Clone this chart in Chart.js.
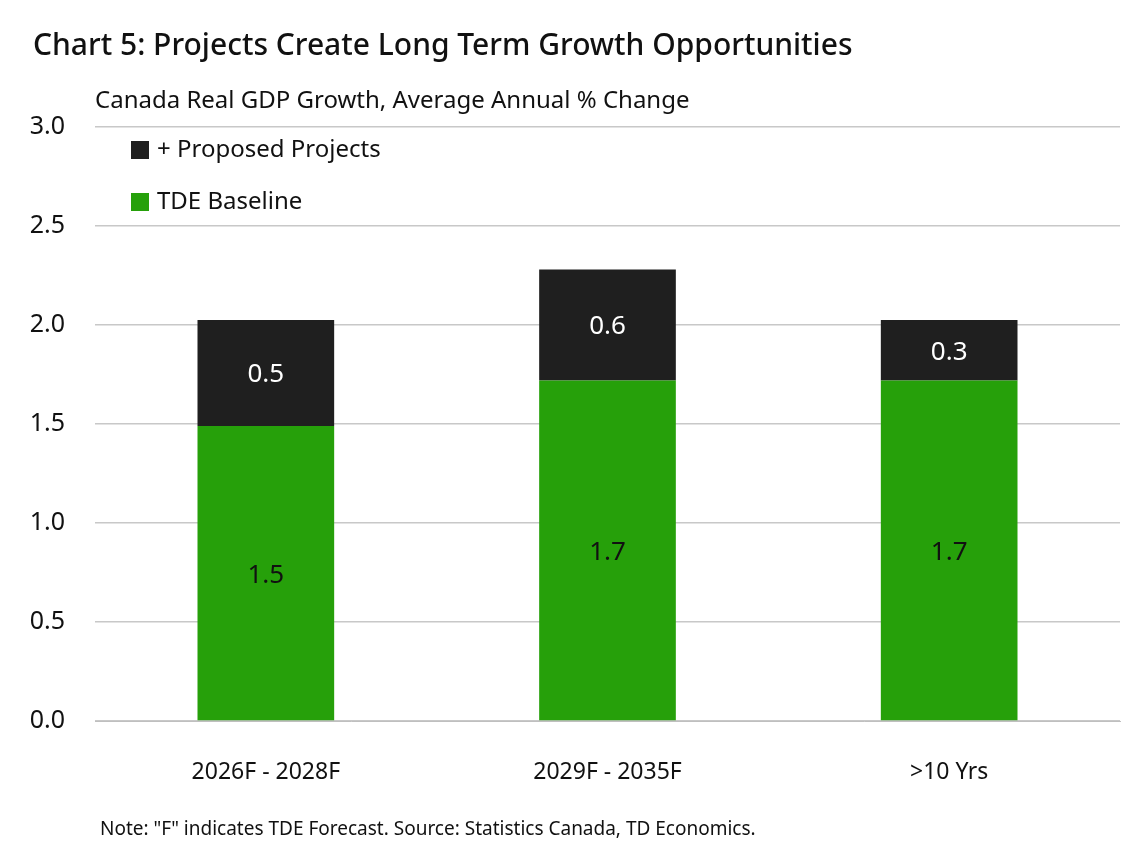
<!DOCTYPE html>
<html><head><meta charset="utf-8">
<script src="https://cdn.jsdelivr.net/npm/chart.js@4"></script>
<style>html,body{margin:0;padding:0;background:#fff}</style>
</head><body>
<canvas id="c" width="1142" height="849"></canvas>
<script>
const categories = ["2026F - 2028F", "2029F - 2035F", ">10 Yrs"];
const baseline = [1.49, 1.72, 1.72];
const proposed = [0.535, 0.56, 0.305];
const baselineLabels = ["1.5", "1.7", "1.7"];
const proposedLabels = ["0.5", "0.6", "0.3"];
const yTicks = [0, 0.5, 1.0, 1.5, 2.0, 2.5, 3.0];
const FONT = "'Noto Sans', sans-serif";

const deco = {
  id: 'deco',
  afterDraw(chart) {
    const ctx = chart.ctx;
    ctx.save();
    ctx.textBaseline = 'middle';
    ctx.fillStyle = '#111';
    ctx.font = `500 30px ${FONT}`;
    ctx.textAlign = 'left';
    ctx.fillText('Chart 5: Projects Create Long Term Growth Opportunities', 33, 46);
    ctx.font = `24px ${FONT}`;
    ctx.fillText('Canada Real GDP Growth, Average Annual % Change', 95, 101);
    ctx.font = `19px ${FONT}`;
    ctx.fillText('Note: "F" indicates TDE Forecast. Source: Statistics Canada, TD Economics.', 100, 830);
    // legend
    const items = [[chart.data.datasets[1], 150], [chart.data.datasets[0], 202]];
    ctx.font = `24px ${FONT}`;
    items.forEach(([ds, y]) => {
      ctx.fillStyle = ds.backgroundColor;
      ctx.fillRect(131, y - 9, 18, 18);
      ctx.fillStyle = '#111';
      ctx.fillText(ds.label, 157, y);
    });
    // value labels
    ctx.font = `26px ${FONT}`;
    ctx.textAlign = 'center';
    chart.data.datasets.forEach((ds, di) => {
      const meta = chart.getDatasetMeta(di);
      meta.data.forEach((bar, i) => {
        const y = (bar.y + bar.base) / 2;
        ctx.fillStyle = di === 0 ? '#111' : '#fff';
        ctx.fillText(ds.labels[i], bar.x, y + 2);
      });
    });
    ctx.restore();
  }
};

new Chart(document.getElementById('c'), {
  type: 'bar',
  data: {
    labels: categories,
    datasets: [
      { label: 'TDE Baseline', data: baseline, labels: baselineLabels, backgroundColor: '#26a00a' },
      { label: '+ Proposed Projects', data: proposed, labels: proposedLabels, backgroundColor: '#1f1f1f' }
    ]
  },
  options: {
    responsive: false,
    animation: false,
    layout: { padding: { top: 127, right: 22, left: 0, bottom: 0 } },
    plugins: { legend: { display: false }, tooltip: { enabled: false } },
    datasets: { bar: { categoryPercentage: 1, barPercentage: 0.4 } },
    scales: {
      x: {
        stacked: true,
        grid: { display: false },
        border: { color: '#bfbfbf' },
        ticks: { color: '#111', font: { family: FONT, size: 23 }, padding: 30 },
        afterFit(s) { s.height = 128; }
      },
      y: {
        stacked: true,
        min: 0, max: 3,
        afterBuildTicks(s) { s.ticks = yTicks.map(v => ({ value: v })); },
        grid: { color: '#c8c8c8', lineWidth: 1.5, drawTicks: false },
        border: { display: false },
        ticks: { color: '#111', font: { family: FONT, size: 25 }, padding: 30, callback: v => v.toFixed(1) },
        afterFit(s) { s.width = 95; }
      }
    }
  },
  plugins: [deco]
});
</script>
</body></html>
